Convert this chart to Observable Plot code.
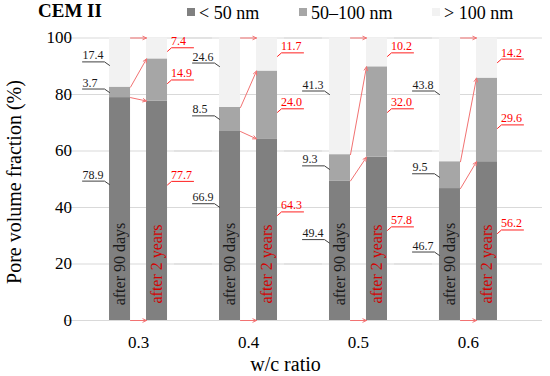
<!DOCTYPE html>
<html>
<head>
<meta charset="utf-8">
<script src="https://cdn.jsdelivr.net/npm/d3@7"></script>
<script src="https://cdn.jsdelivr.net/npm/@observablehq/plot@0.6"></script>
<style>
  body { margin: 0; background: #fff; }
  #wrap { position: relative; width: 550px; height: 376px; font-family: "Liberation Serif", "Times New Roman", serif; color: #000; }
  #head { position: relative; height: 28px; }
  #title { position: absolute; left: 38px; top: 0; font-weight: bold; font-size: 19px; line-height: 22px; }
  .leg { position: absolute; top: 3px; font-size: 18px; line-height: 20px; display: flex; align-items: center; white-space: nowrap; }
  .sw { width: 8px; height: 8px; margin-right: 4px; margin-top: -2px; }
  #ylab { position: absolute; left: 14px; top: 182px; font-size: 20px; line-height: 22px; white-space: nowrap; transform: translate(-50%, -50%) rotate(-90deg); }
  svg { display: block; }
</style>
</head>
<body>
<div id="wrap">
  <div id="head"><div id="title">CEM II</div></div>
  <div id="ylab">Pore volume fraction (%)</div>
</div>
<script>
// ---- data ----
const ratios = ["0.3", "0.4", "0.5", "0.6"];
const times = ["after 90 days", "after 2 years"];
const sizeClasses = ["< 50 nm", "50–100 nm", "> 100 nm"];
const colors = ["#808080", "#a6a6a6", "#f2f2f2"];
// pore volume fractions [<50, 50–100, >100] per w/c ratio
const after90days = [[78.9, 3.7, 17.4], [66.9, 8.5, 24.6], [49.4, 9.3, 41.3], [46.7, 9.5, 43.8]];
const after2years = [[77.7, 14.9, 7.4], [64.3, 24.0, 11.7], [57.8, 32.0, 10.2], [56.2, 29.6, 14.2]];
const yTicks = [0, 20, 40, 60, 80, 100];

// ---- annotation layout (percent units where the leader lines meet the bars) ----
const leaderAt90days = [[48.1, 80.7, 90.3], [40.1, 71.2, 89.9], [27.4, 53.5, 80.0], [23.0, 50.7, 80.0]];
const leaderAt2years = [[48.0, 83.9, 95.3], [37.2, 73.7, 93.5], [31.9, 73.7, 93.5], [30.8, 68.0, 91.3]];
const timeLabelAt = 20;
const legendLeft = [187, 299, 432];

// ---- tables ----
const rows = [];
ratios.forEach((r, i) => {
  [after90days, after2years].forEach((series, t) => {
    const anchors = t === 0 ? leaderAt90days : leaderAt2years;
    series[i].forEach((v, k) => rows.push({ratio: r, time: times[t], size: sizeClasses[k], value: v, anchor: anchors[i][k]}));
  });
});
const arrows = [];
ratios.forEach((r, i) => {
  const c1 = d3.cumsum([0, ...after90days[i]]), c2 = d3.cumsum([0, ...after2years[i]]);
  for (let k = 0; k < 4; k++) arrows.push({ratio: r, from: times[0], to: times[1], y1: c1[k], y2: c2[k]});
});
const barLabels = ratios.flatMap(r => times.map(t => ({ratio: r, time: t})));

// ---- legend ----
const head = document.getElementById("head");
sizeClasses.forEach((s, k) => {
  const d = document.createElement("div");
  d.className = "leg";
  d.style.left = legendLeft[k] + "px";
  const sw = document.createElement("span");
  sw.className = "sw";
  sw.style.background = colors[k];
  d.appendChild(sw);
  d.appendChild(document.createTextNode(s));
  head.appendChild(d);
});

// ---- helpers ----
const serif = "Liberation Serif, Times New Roman, serif";
const leftLeader = {draw(c) { c.moveTo(0, 0); c.lineTo(-5, -3.5); c.lineTo(-27, -3.5); }};
const rightLeader = {draw(c) { c.moveTo(0, 0); c.lineTo(4, -3.5); c.lineTo(26, -3.5); }};
function bandOf(scales) {
  let b = scales.x && scales.x.bandwidth;
  if (typeof b === "function") b = b();
  if (b == null && scales.scales && scales.scales.x) b = scales.scales.x.bandwidth;
  return b || 0;
}
function toEdges(index, scales, values, dimensions, context, next) {
  const b = bandOf(scales);
  const x1 = Float64Array.from(values.x1, v => v + b / 2);
  const x2 = Float64Array.from(values.x2, v => v - b / 2);
  return next(index, scales, {...values, x1, x2}, dimensions, context);
}
const rows90 = rows.filter(d => d.time === times[0]);
const rows2y = rows.filter(d => d.time === times[1]);
const half = 10.5;
const gridReach = -24.5; // grid rules reach across the gaps between facets

const chart = Plot.plot({
  width: 550,
  height: 348,
  marginTop: 9.5,
  marginBottom: 56,
  marginLeft: 64,
  marginRight: 8,
  style: {fontFamily: serif, background: "white", color: "black"},
  facet: {marginTop: 0, marginBottom: 0, marginLeft: 0, marginRight: 0},
  fx: {domain: ratios, paddingInner: 0.1, paddingOuter: 0.223, round: false, label: null},
  x: {domain: times, paddingInner: 0.432, paddingOuter: 0.554, round: false, axis: null},
  y: {domain: [0, 100], label: null},
  color: {domain: sizeClasses, range: colors},
  marks: [
    Plot.ruleY(yTicks, {stroke: "#d9d9d9", insetLeft: gridReach, insetRight: gridReach}),
    Plot.axisY({ticks: yTicks, tickSize: 0, tickPadding: 17, fontSize: 17, fontFamily: serif, label: null}),
    Plot.axisFx({anchor: "bottom", tickSize: 0, tickPadding: 15, fontSize: 17, fontFamily: serif, label: null}),
    Plot.text(["w/c ratio"], {facet: "super", text: d => d, frameAnchor: "bottom", textAnchor: "middle", dx: -18, dy: 50, lineAnchor: "bottom", fontSize: 20, fontFamily: serif, fill: "black"}),
    Plot.barY(rows, {fx: "ratio", x: "time", y: "value", fill: "size"}),
    Plot.arrow(arrows, {fx: "ratio", x1: "from", x2: "to", y1: "y1", y2: "y2", stroke: "#f27272", strokeWidth: 1, headLength: 6, headAngle: 50, render: toEdges}),
    Plot.text(barLabels.filter(d => d.time === times[0]), {fx: "ratio", x: "time", y: () => timeLabelAt, text: "time", rotate: -90, fontSize: 16, fontFamily: serif, fill: "#1a1a1a"}),
    Plot.text(barLabels.filter(d => d.time === times[1]), {fx: "ratio", x: "time", y: () => timeLabelAt, text: "time", rotate: -90, fontSize: 16, fontFamily: serif, fill: "#d40000"}),
    Plot.vector(rows90, {fx: "ratio", x: "time", y: "anchor", length: 1, anchor: "start", shape: leftLeader, dx: -half, stroke: "#404040", strokeWidth: 1}),
    Plot.vector(rows2y, {fx: "ratio", x: "time", y: "anchor", length: 1, anchor: "start", shape: rightLeader, dx: half, stroke: "#ff2020", strokeWidth: 1}),
    Plot.text(rows90, {fx: "ratio", x: "time", y: "anchor", text: d => d.value.toFixed(1), dx: -half - 27, dy: -6, textAnchor: "start", lineAnchor: "bottom", fontSize: 12, fontFamily: serif, fill: "#1a1a1a"}),
    Plot.text(rows2y, {fx: "ratio", x: "time", y: "anchor", text: d => d.value.toFixed(1), dx: half + 3.5, dy: -6, textAnchor: "start", lineAnchor: "bottom", fontSize: 12, fontFamily: serif, fill: "#ff0000"})
  ]
});
document.getElementById("wrap").appendChild(chart);
</script>
</body>
</html>
